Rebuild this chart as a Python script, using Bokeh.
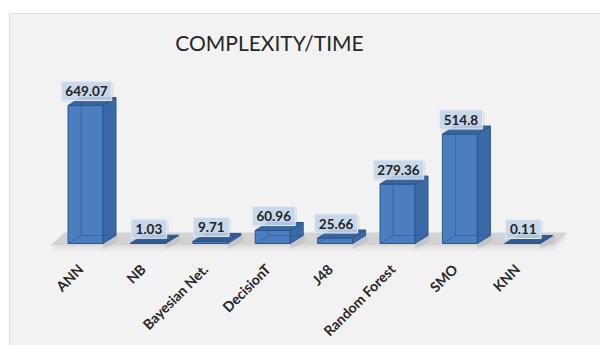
import math
from bokeh.plotting import figure
from bokeh.models import Range1d, Span
from bokeh.core.properties import value
from bokeh.embed import file_html
from bokeh.resources import INLINE

# Data
methods = ["ANN", "NB", "Bayesian Net.", "DecisionT", "J48", "Random Forest", "SMO", "KNN"]
times = [649.07, 1.03, 9.71, 60.96, 25.66, 279.36, 514.8, 0.11]
value_labels = ["649.07", "1.03", "9.71", "60.96", "25.66", "279.36", "514.8", "0.11"]

# Pixel scales of the plotting frame
PX_PER_CAT = 62.4
PX_PER_UNIT = 0.2126
FRAME_W, FRAME_H = 591, 332

x_start = -76 / PX_PER_CAT
x_end = x_start + FRAME_W / PX_PER_CAT
y_end = 230 / PX_PER_UNIT
y_start = y_end - FRAME_H / PX_PER_UNIT

p = figure(width=600, height=345, output_backend="svg", toolbar_location=None,
           x_range=Range1d(x_start, x_end), y_range=Range1d(y_start, y_end),
           min_border_left=9, min_border_top=13, min_border_right=0, min_border_bottom=0,
           background_fill_color="#f2f2f2", border_fill_color="#ffffff",
           outline_line_color=None)
p.xaxis.visible = False
p.yaxis.visible = False
p.xgrid.visible = False
p.ygrid.visible = False

# chart border (left and top edges)
p.add_layout(Span(location=x_start, dimension="height", line_color="#c6c6c6", line_width=1))
p.add_layout(Span(location=y_end, dimension="width", line_color="#c6c6c6", line_width=1))

# 3-D depth offsets
dx = 13 / PX_PER_CAT
dy = 8 / PX_PER_UNIT
half_w = 17.5 / PX_PER_CAT

# floor slab with soft shadow
fl_left = -0.56
fl_right = len(methods) - 1 + 0.5
fl_dx = 14 / PX_PER_CAT
fl_front = -2 / PX_PER_UNIT
fl_back = 11 / PX_PER_UNIT
for k, a in enumerate([0.05, 0.05, 0.05]):
    off = (k + 1) * 2 / PX_PER_UNIT
    p.patch([fl_left + 0.02, fl_right, fl_right + fl_dx, fl_left + fl_dx + 0.02],
            [fl_front - off, fl_front - off, fl_back - off, fl_back - off],
            fill_color="#808080", fill_alpha=a, line_color=None)
p.patch([fl_left, fl_right, fl_right + fl_dx, fl_left + fl_dx],
        [fl_front, fl_front, fl_back, fl_back],
        fill_color="#d3d3d3", line_color=None)

front_color = "#4a7ebe"
side_color = "#3a6aa6"
top_color = "#36659f"
edge_color = "#2b5690"

for i, v in enumerate(times):
    l, r = i - half_w, i + half_w
    # bar shadow on the floor
    p.patch([r, r + dx + 0.03, r + dx + 0.03, r],
            [0, dy, dy - 6 / PX_PER_UNIT, -6 / PX_PER_UNIT],
            fill_color="#9a9a9a", fill_alpha=0.25, line_color=None)
    # front face
    p.quad(left=l, right=r, bottom=0, top=v, fill_color=front_color,
           line_color=edge_color, line_width=1)
    # side face
    p.patch([r, r + dx, r + dx, r], [0, dy, v + dy, v],
            fill_color=side_color, line_color=edge_color, line_width=1)
    # top face
    tc = top_color if v > 20 else "#2d5b93"
    p.patch([l, r, r + dx, l + dx], [v, v, v + dy, v + dy],
            fill_color=tc, line_color=edge_color, line_width=1)
    # hidden edges seen through the glassy bar
    if v > 20:
        p.multi_line([[l + dx, l + dx], [l + dx, r + dx], [l, l + dx]],
                     [[dy, v + dy], [dy, dy], [0, dy]],
                     line_color="#2f5c95", line_alpha=0.6, line_width=1)

# value labels in light boxes
box_h = 19
box_bottom = 5 / PX_PER_UNIT
for i, (v, lab) in enumerate(zip(times, value_labels)):
    w = 7.4 * len(lab) + 6
    cx = i + 1 / PX_PER_CAT
    cy = v + box_bottom + (box_h / 2) / PX_PER_UNIT
    p.rect(x=cx + 2 / PX_PER_CAT, y=cy - 2 / PX_PER_UNIT, width=w, height=box_h,
           width_units="screen", height_units="screen",
           fill_color="#7f7f7f", fill_alpha=0.15, line_color=None)
    p.rect(x=cx, y=cy, width=w, height=box_h,
           width_units="screen", height_units="screen",
           fill_color="#c3d6ec", fill_alpha=0.85, line_color="#e2ebf5", line_width=1)
    p.text(x=[cx], y=[cy], text=[lab], text_font=value("Lato"), text_font_style="bold",
           text_font_size="13.5px", text_color="#222222", text_align="center",
           text_baseline="middle")

# category labels, rotated 45 degrees
label_y = -(260 - 243) / PX_PER_UNIT
label_x = [i - 11 / PX_PER_CAT for i in range(len(methods))]
p.text(x=label_x, y=[label_y] * len(methods), text=methods,
       angle=math.pi / 4, text_font=value("Lato"), text_font_style="bold",
       text_font_size="14px", text_color="#262626", text_align="right",
       text_baseline="top")

# title
p.text(x=[(269 - 85) / PX_PER_CAT], y=[(243 - 42) / PX_PER_UNIT],
       text=["COMPLEXITY/TIME"], text_font=value("Lato"), text_font_size="21px",
       text_color="#262626", text_align="center", text_baseline="middle")

open("out.html", "w").write(file_html(p, INLINE))
